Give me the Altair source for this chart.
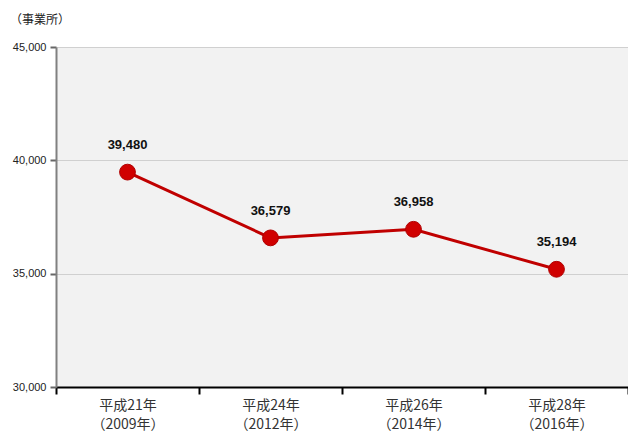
import altair as alt
import pandas as pd

categories = ["平成21年\n（2009年）", "平成24年\n（2012年）", "平成26年\n（2014年）", "平成28年\n（2016年）"]
values = [39480, 36579, 36958, 35194]
y_ticks = [30000, 35000, 40000, 45000]

df = pd.DataFrame({"year": categories, "count": values})

x = alt.X("year:N", sort=categories, title=None,
          scale=alt.Scale(paddingInner=0, paddingOuter=0),
          axis=alt.Axis(labelAngle=0, labelExpr="split(datum.label, '\\n')",
                        labelFont="Noto Sans CJK JP", labelFontSize=14, labelColor="#333333",
                        labelPadding=4, labelLineHeight=19, labelBaseline="top",
                        domainColor="#000000", domainWidth=2, tickColor="#000000",
                        tickWidth=2, tickSize=7, tickBand="extent", grid=False))
y = alt.Y("count:Q", title=None,
          scale=alt.Scale(domain=[30000, 45000], nice=False, zero=False),
          axis=alt.Axis(values=y_ticks, labelExpr="format(datum.value, ',')",
                        labelFont="Liberation Sans",
                        labelFontSize=11, labelColor="#222222", labelPadding=4,
                        domainColor="#808080", domainWidth=2, tickColor="#666666",
                        tickSize=6, tickWidth=2, grid=True, gridColor="#d0d0d0", gridWidth=1))

base = alt.Chart(df).encode(x=x, y=y)

line = base.mark_line(color="#c00000", strokeWidth=3)
points = base.mark_circle(color="#d00000", size=250, opacity=1, stroke="#b00000", strokeWidth=1)
labels = base.mark_text(dy=-27, font="Liberation Sans", fontSize=13, fontWeight="bold",
                        color="#111111").encode(text=alt.Text("count:Q", format=","))

chart = alt.layer(line, points, labels).properties(
    width=572, height=340,
    title=alt.TitleParams("（事業所）", anchor="start", frame="group", dx=-46, offset=14,
                          font="Noto Sans CJK JP", fontSize=12, fontWeight="normal",
                          color="#222222"),
    autosize=alt.AutoSizeParams(type="none"),
    padding={"left": 48, "top": 39, "right": 0, "bottom": 46},
).configure_view(fill="#f2f2f2", stroke=None)

chart.save("out.html", embed_options={"renderer": "svg", "actions": False})
